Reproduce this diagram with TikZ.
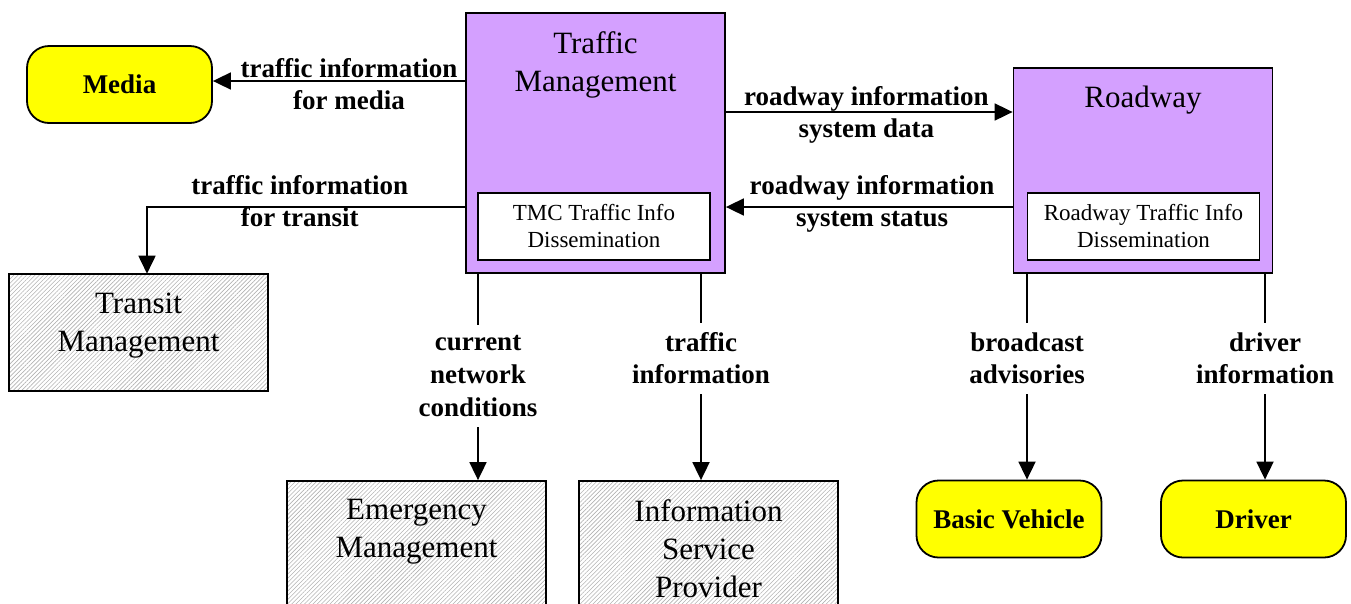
\documentclass[tikz,border=0pt]{standalone}
\usepackage{fontspec}
\setmainfont{Liberation Serif}
\usetikzlibrary{arrows.meta,patterns.meta}

\definecolor{tmpurple}{RGB}{212,160,255}
\definecolor{termyellow}{RGB}{255,255,0}

\begin{document}
\begin{tikzpicture}[
  x=1pt, y=-1pt,
  subsys/.style={draw, line width=1.8pt, fill=tmpurple, minimum width=259pt, inner sep=0pt},
  extern/.style={draw, line width=1.8pt, pattern={Lines[angle=45, distance=3pt, line width=0.6pt]}, pattern color=gray!60, minimum width=259pt, inner sep=0pt},
  title/.style={align=center, anchor=north, inner sep=0pt, font=\fontsize{31}{38}\selectfont},
  inbox/.style={draw, line width=1.8pt, fill=white, align=center, minimum width=232pt, minimum height=67pt, inner sep=0pt, font=\fontsize{23}{27}\selectfont},
  term/.style={draw, line width=1.8pt, fill=termyellow, rounded corners=22pt, minimum width=185pt, minimum height=77pt, inner sep=2pt, font=\bfseries\fontsize{27}{32}\selectfont},
  flow/.style={-{Triangle[width=17pt, length=18pt]}, line width=1.8pt},
  flowlab/.style={align=center, inner sep=0pt, font=\bfseries\fontsize{27}{32}\selectfont},
  vlab/.style={flowlab, fill=white, inner ysep=10pt}
]
\clip (0,0) rectangle (1351,603);

% terminators
\node[term] (media) at (119.5,84.5) {Media};
\node[term] (basicveh) at (1009,519) {Basic Vehicle};
\node[term] (driver) at (1253.5,519) {Driver};

% subsystems
\node[subsys, minimum height=260pt] (tm) at (595.5,143) {};
\node[title] (tmtitle) at ([yshift=-19pt]tm.north) {Traffic\\Management};
\node[inbox] (tmcdiss) at (594,226.5) {TMC Traffic Info\\Dissemination};
\node[subsys, minimum height=205pt] (rw) at (1143,170.5) {};
\node[title] (rwtitle) at ([yshift=-19pt]rw.north) {Roadway};
\node[inbox] (rwdiss) at (1143.5,226.5) {Roadway Traffic Info\\Dissemination};

% other centers
\node[extern, minimum height=117pt] (transit) at (138.5,332.5) {};
\node[title] (transittitle) at ([yshift=-19pt]transit.north) {Transit\\Management};
\node[extern, minimum height=140pt] (emerg) at (416.5,551) {};
\node[title] (emergtitle) at ([yshift=-19pt]emerg.north) {Emergency\\Management};
\node[extern, minimum height=140pt] (isp) at (708.5,551) {};
\node[title] (isptitle) at ([yshift=-19pt]isp.north) {Information\\Service\\Provider};

% horizontal flows
\draw[flow] (tm.west |- 0,81) -- node[flowlab, pos=.46, yshift=-3pt] {traffic information\\for media} (media.east |- 0,81);
\draw[flow] (tm.west |- 0,207) -| node[flowlab, pos=.26, yshift=6pt] {traffic information\\for transit} ([xshift=8.5pt]transit.north);
\draw[flow] (tm.east |- 0,112) -- node[flowlab, pos=.49, yshift=-3pt] {roadway information\\system data} (rw.west |- 0,112);
\draw[flow] (rw.west |- 0,207) -- node[flowlab, pos=.49, yshift=3pt] {roadway information\\system status} (tm.east |- 0,207);

% vertical flows
\draw[flow] (tm.south -| 478,0) -- node[vlab, pos=.495, font=\bfseries\fontsize{27}{33}\selectfont] {current\\network\\conditions} (emerg.north -| 478,0);
\draw[flow] (tm.south -| 701,0) -- node[vlab, pos=.41] {traffic\\information} (isp.north -| 701,0);
\draw[flow] (rw.south -| 1027,0) -- node[vlab, pos=.41] {broadcast\\advisories} (basicveh.north -| 1027,0);
\draw[flow] (rw.south -| 1265,0) -- node[vlab, pos=.41] {driver\\information} (driver.north -| 1265,0);

\end{tikzpicture}
\end{document}
